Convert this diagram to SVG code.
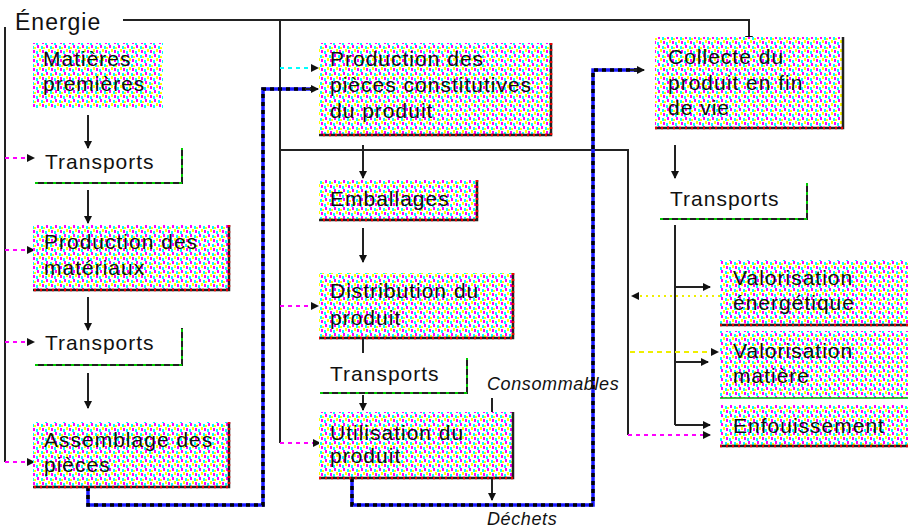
<svg xmlns="http://www.w3.org/2000/svg" width="908" height="531" viewBox="0 0 908 531">
<style>
 .t{font-family:"Liberation Sans",Arial,sans-serif;font-size:21px;letter-spacing:1px;fill:#111}
 .it{font-family:"Liberation Sans",Arial,sans-serif;font-size:18px;font-style:italic;letter-spacing:0.6px;fill:#111}
 .box{fill:url(#dith)}
 .edge{fill:none;stroke:#222;stroke-width:2.5}
 .edgec{fill:none;stroke:#e00;stroke-width:2.5;stroke-dasharray:2 4}
 .line{fill:none;stroke:#222;stroke-width:2}
 .arr{fill:none;stroke:#222;stroke-width:2;marker-end:url(#ah)}
 .dash{fill:none;stroke:#f0f;stroke-width:2;stroke-dasharray:4 4;marker-end:url(#ah)}
 .dashy{fill:none;stroke:#ee0;stroke-width:2;stroke-dasharray:5 4;marker-end:url(#ah)}
 .thick{fill:none;stroke:#1a1aff;stroke-width:3.5}
 .thickd{fill:none;stroke:#000;stroke-width:3.5;stroke-dasharray:4 4}
 .brk{fill:none;stroke:#222;stroke-width:2}
 .brkc{fill:none;stroke:#0c0;stroke-width:2;stroke-dasharray:3 6}
</style>
<defs>
 <pattern id="dith" width="9" height="9" patternUnits="userSpaceOnUse">
  <rect width="9" height="9" fill="#fff"/>
  <rect x="1" y="0" width="2" height="3" fill="#f0f"/>
  <rect x="5" y="1" width="2" height="3" fill="#0ff"/>
  <rect x="3" y="4" width="2" height="3" fill="#ff0"/>
  <rect x="6" y="5" width="2" height="3" fill="#f0f"/>
  <rect x="0" y="6" width="2" height="3" fill="#0ff"/>
  <rect x="7" y="2" width="2" height="2" fill="#ff0"/>
 </pattern>
 <marker id="ah" markerWidth="8" markerHeight="8" refX="7" refY="4" orient="auto" markerUnits="userSpaceOnUse">
  <path d="M0,0 L8,4 L0,8 z" fill="#111"/>
 </marker>
</defs>
<rect width="908" height="531" fill="#fff"/>

<g id="connectors">
 <path class="line" d="M123,20 H749 V36"/>
 <path class="arr" d="M749,30 V43"/>
 <path class="line" d="M5,27 V462"/>
 <path class="dash" d="M5,158 H34"/>
 <path class="dash" d="M5,250 H34"/>
 <path class="dash" d="M5,342 H34"/>
 <path class="dash" d="M5,462 H34"/>
 <path class="line" d="M280,20 V443"/>
 <path class="dash" d="M280,68 H318" style="stroke:#0ff"/>
 <path class="dash" d="M280,306 H318"/>
 <path class="dash" d="M280,443 H320"/>
 <path class="line" d="M280,150 H628 V435"/>
 <path class="dash" d="M628,435 H710"/>
 <path class="arr" d="M88,115 V148"/>
 <path class="arr" d="M88,190 V223"/>
 <path class="arr" d="M88,297 V330"/>
 <path class="arr" d="M88,373 V408"/>
 <path class="thick" d="M88,487 V505 H263 V89 H312"/>
 <path class="thickd" d="M88,487 V505 H263 V89 H312"/>
 <path class="arr" d="M305,89 H318"/>
 <path class="thick" d="M352,478 V505 H593 V70 H638"/>
 <path class="thickd" d="M352,478 V505 H593 V70 H638"/>
 <path class="arr" d="M630,70 H644"/>
 <path class="arr" d="M363,145 V178"/>
 <path class="arr" d="M363,228 V262"/>
 <path class="line" d="M363,338 V353"/>
 <path class="arr" d="M363,395 V410"/>
 <path class="arr" d="M492,398 V421"/>
 <path class="arr" d="M492,453 V500"/>
 <path class="arr" d="M675,145 V178"/>
 <path class="line" d="M675,225 V425"/>
 <path class="arr" d="M675,287 H710"/>
 <path class="arr" d="M675,362 H708"/>
 <path class="arr" d="M675,425 H710"/>
 <path class="dashy" d="M720,296 H632" style="stroke-dasharray:2 4"/>
 <path class="dashy" d="M630,352 H718"/>
</g>

<text class="t" x="15" y="30" style="font-size:23px">Énergie</text>

<g id="matieres">
 <rect class="box" x="33" y="43" width="130" height="65"/>
 <text class="t" x="43" y="66">Matières</text>
 <text class="t" x="43" y="91">premières</text>
</g>
<g id="transports1">
 <path class="brk" d="M35,183 H182 V148"/><path class="brkc" d="M35,183 H182 V148"/>
 <text class="t" x="45" y="169">Transports</text>
</g>
<g id="prod-materiaux">
 <rect class="box" x="33" y="225" width="196" height="65"/>
 <path class="edge" d="M229,225 V290 H33"/><path class="edgec" d="M229,225 V290 H33"/>
 <text class="t" x="44" y="249">Production des</text>
 <text class="t" x="44" y="275">matériaux</text>
</g>
<g id="transports2">
 <path class="brk" d="M35,365 H182 V328"/><path class="brkc" d="M35,365 H182 V328"/>
 <text class="t" x="45" y="350">Transports</text>
</g>
<g id="assemblage">
 <rect class="box" x="33" y="422" width="196" height="65"/>
 <path class="edge" d="M229,422 V487 H33"/><path class="edgec" d="M229,422 V487 H33"/>
 <text class="t" x="44" y="447">Assemblage des</text>
 <text class="t" x="44" y="472">pièces</text>
</g>
<g id="prod-pieces">
 <rect class="box" x="319" y="43" width="232" height="92"/>
 <path class="edge" d="M551,43 V135 H319"/><path class="edgec" d="M551,43 V135 H319"/>
 <text class="t" x="330" y="66">Production des</text>
 <text class="t" x="330" y="92">pièces constitutives</text>
 <text class="t" x="330" y="118">du produit</text>
</g>
<g id="emballages">
 <rect class="box" x="319" y="180" width="158" height="40"/>
 <path class="edge" d="M477,180 V220 H319"/><path class="edgec" d="M477,180 V220 H319"/>
 <text class="t" x="330" y="206">Emballages</text>
</g>
<g id="distribution">
 <rect class="box" x="319" y="273" width="194" height="65"/>
 <path class="edge" d="M513,273 V338 H319"/><path class="edgec" d="M513,273 V338 H319"/>
 <text class="t" x="330" y="298">Distribution du</text>
 <text class="t" x="330" y="325">produit</text>
</g>
<g id="transports3">
 <path class="brk" d="M320,393 H467 V358"/><path class="brkc" d="M320,393 H467 V358"/>
 <text class="t" x="330" y="381">Transports</text>
</g>
<g id="utilisation">
 <rect class="box" x="319" y="412" width="194" height="66"/>
 <path class="edge" d="M513,412 V478 H319"/><path class="edgec" d="M513,478 H319"/>
 <text class="t" x="330" y="440">Utilisation du</text>
 <text class="t" x="330" y="463">produit</text>
</g>
<text class="it" x="487" y="390">Consommables</text>
<text class="it" x="487" y="525">Déchets</text>
<g id="collecte">
 <rect class="box" x="655" y="37" width="188" height="91"/>
 <path class="edge" d="M843,37 V128 H655"/><path class="edgec" d="M843,128 H655"/>
 <text class="t" x="668" y="64">Collecte du</text>
 <text class="t" x="668" y="90">produit en fin</text>
 <text class="t" x="668" y="115">de vie</text>
</g>
<g id="transports4">
 <path class="brk" d="M660,219 H807 V183"/><path class="brkc" d="M660,219 H807 V183"/>
 <text class="t" x="670" y="206">Transports</text>
</g>
<g id="valo-energie">
 <rect class="box" x="720" y="260" width="188" height="65"/>
 <path class="edge" d="M720,325 H908"/><path class="edgec" d="M720,325 H908"/>
 <text class="t" x="733" y="285">Valorisation</text>
 <text class="t" x="733" y="310">énergétique</text>
</g>
<g id="valo-matiere">
 <rect class="box" x="720" y="331" width="188" height="67"/>
 <path class="edge" d="M720,398 H908" style="stroke:#0a0;stroke-width:1.5"/>
 <text class="t" x="733" y="358">Valorisation</text>
 <text class="t" x="733" y="383">matière</text>
</g>
<g id="enfouissement">
 <rect class="box" x="720" y="405" width="188" height="41"/>
 <path class="edge" d="M720,446 H908"/><path class="edgec" d="M720,446 H908"/>
 <text class="t" x="733" y="433">Enfouissement</text>
</g>
</svg>
